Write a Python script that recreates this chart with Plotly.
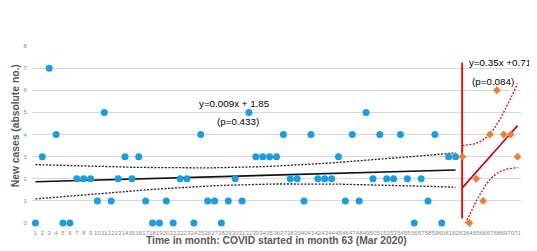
import numpy as np
import plotly.graph_objects as go

# ---- data ----
months_pre = list(range(1, 63))
cases_pre = [0, 3, 7, 4, 0, 0, 2, 2, 2, 1,
             5, 1, 2, 3, 2, 3, 1, 0, 0, 1,
             0, 2, 2, 0, 4, 1, 1, 0, 1, 2,
             1, 5, 3, 3, 3, 3, 4, 2, 2, 1,
             4, 2, 2, 2, 3, 1, 4, 1, 5, 2,
             4, 2, 2, 4, 2, 0, 2, 1, 4, 0,
             3, 3]
months_post = list(range(63, 72))
cases_post = [3, 0, 2, 1, 4, 6, 4, 4, 3]
tick_labels = [str(m) for m in range(1, 72)]
covid_start = 63
covid_line_extent = [0.2, 7.25]
eq_pre = ["y=0.009x + 1.85", "(p=0.433)"]
eq_post = ["y=0.35x +0.71", "(p=0.084)"]
x_title = "Time in month: COVID started in month 63 (Mar 2020)"
y_title = "New cases (absolute no.)"
t_pre = 2.0     # ~95% band
t_post = 1.895  # ~90% band


def fit_band(x, y, t, n_pts=60):
    x = np.asarray(x, float)
    y = np.asarray(y, float)
    b, a = np.polyfit(x, y, 1)
    res = y - (a + b * x)
    n = len(x)
    s = np.sqrt((res ** 2).sum() / (n - 2))
    sxx = ((x - x.mean()) ** 2).sum()
    xs = np.linspace(x.min(), x.max(), n_pts)
    yh = a + b * xs
    hw = t * s * np.sqrt(1 / n + (xs - x.mean()) ** 2 / sxx)
    return xs, yh, yh - hw, yh + hw


xs1, yh1, lo1, hi1 = fit_band(months_pre, cases_pre, t_pre)
xs2, yh2, lo2, hi2 = fit_band(months_post, cases_post, t_post)

dotted = "2px,1.5px"
fig = go.Figure()
# pre-COVID band & trend
fig.add_trace(go.Scatter(x=xs1, y=hi1, mode="lines",
                         line=dict(color="#222", width=1.3, dash=dotted), hoverinfo="skip"))
fig.add_trace(go.Scatter(x=xs1, y=lo1, mode="lines",
                         line=dict(color="#222", width=1.3, dash=dotted), hoverinfo="skip"))
fig.add_trace(go.Scatter(x=xs1, y=yh1, mode="lines",
                         line=dict(color="#111", width=1.6), hoverinfo="skip"))
# post-COVID band & trend
fig.add_trace(go.Scatter(x=xs2, y=hi2, mode="lines",
                         line=dict(color="#d01010", width=1.3, dash=dotted), hoverinfo="skip"))
fig.add_trace(go.Scatter(x=xs2, y=lo2, mode="lines",
                         line=dict(color="#d01010", width=1.3, dash=dotted), hoverinfo="skip"))
fig.add_trace(go.Scatter(x=xs2, y=yh2, mode="lines",
                         line=dict(color="#c00000", width=1.6), hoverinfo="skip"))
# COVID start line
fig.add_trace(go.Scatter(x=[covid_start - 0.05] * 2, y=covid_line_extent, mode="lines",
                         line=dict(color="#ff0000", width=1.8), hoverinfo="skip"))
# points
fig.add_trace(go.Scatter(x=months_pre, y=cases_pre, mode="markers",
                         marker=dict(color="#1b9de2", size=7), cliponaxis=False))
fig.add_trace(go.Scatter(x=months_post, y=cases_post, mode="markers",
                         marker=dict(color="#ed7d31", size=6, symbol="diamond"), cliponaxis=False))

ann_font = dict(family="Liberation Sans, Arial, sans-serif", size=9.8, color="#000")
fig.add_annotation(x=24.4, y=5.42, text=eq_pre[0], showarrow=False, xanchor="left", yanchor="middle", font=ann_font)
fig.add_annotation(x=27.0, y=4.6, text=eq_pre[1], showarrow=False, xanchor="left", yanchor="middle", font=ann_font)
fig.add_annotation(x=63.7, y=7.27, text=eq_post[0], showarrow=False, xanchor="left", yanchor="middle", font=ann_font)
fig.add_annotation(x=64.1, y=6.4, text=eq_post[1], showarrow=False, xanchor="left", yanchor="middle", font=ann_font)

title_font = dict(family="Liberation Sans, Arial, sans-serif", size=10.3, color="#595959", weight="bold")
fig.add_annotation(xref="paper", yref="paper", x=0.501, y=-0.098, text=x_title, showarrow=False,
                   xanchor="center", yanchor="middle", font=title_font)
fig.add_annotation(xref="paper", yref="paper", x=-0.0348, y=0.552, text=y_title, showarrow=False,
                   xanchor="center", yanchor="middle", textangle=-90, font=title_font)

# the page body adds an 8px offset, so the figure is sized to fit the window
fig.update_layout(
    width=529, height=243,
    margin=dict(l=24, r=16, t=38, b=28),
    paper_bgcolor="white", plot_bgcolor="white",
    showlegend=False,
    font=dict(family="Liberation Sans, Arial, sans-serif"),
    xaxis=dict(range=[0.5, 71.5], tickmode="array", tickvals=list(range(1, 72)), ticktext=tick_labels,
               tickangle=0, automargin=False,
               tickfont=dict(size=6, color="#8a8a8a"), showgrid=False, zeroline=False,
               showline=False, ticks="outside", ticklen=4, tickcolor="rgba(0,0,0,0)"),
    yaxis=dict(range=[0, 8], dtick=1, automargin=False, tickfont=dict(size=6, color="#8a8a8a"),
               showgrid=True, gridcolor="#d9d9d9", gridwidth=1, zeroline=False,
               showline=False, ticks="outside", ticklen=3, tickcolor="rgba(0,0,0,0)"),
)

fig.write_html("out.html")
